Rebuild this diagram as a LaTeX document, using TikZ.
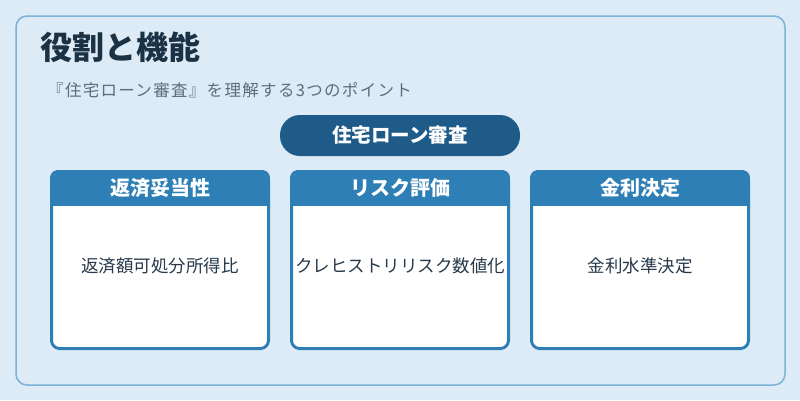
\documentclass[tikz,border=0pt]{standalone}
\usepackage{fontspec}
\setmainfont{Noto Sans CJK JP}
\newfontfamily\subfont{Noto Sans CJK JP}[LetterSpace=8]
\definecolor{bgc}{HTML}{DCEBF6}
\definecolor{framec}{HTML}{7AB2D8}
\definecolor{cardc}{HTML}{2E7FB5}
\definecolor{pillc}{HTML}{1E5B88}
\definecolor{titlec}{HTML}{1B3245}
\definecolor{subc}{HTML}{5C6E7D}
\definecolor{bodyc}{HTML}{27394A}
\begin{document}
\begin{tikzpicture}[x=1pt,y=-1pt,
  headtext/.style={text=white,font=\fontsize{20}{23}\selectfont\bfseries,anchor=center},
  bodytext/.style={text=bodyc,font=\fontsize{17.5}{20}\selectfont,anchor=center}]
\fill[bgc] (0,0) rectangle (800,400);
\useasboundingbox (0,0) rectangle (800,400);
\draw[framec,line width=1.5pt,rounded corners=11pt,fill=bgc] (16,16) rectangle (785,385);
\node[anchor=west,text=titlec,font=\fontsize{32}{36}\selectfont\bfseries,inner sep=0pt] (title) at (40,47) {役割と機能};
\node[anchor=west,text=subc,font=\subfont\fontsize{16.5}{19}\selectfont,inner sep=0pt] (sub) at (47,90) {『住宅ローン審査』を理解する3つのポイント};
\fill[pillc,rounded corners=20pt] (280,115) rectangle (520,156);
\node[text=white,font=\fontsize{19.5}{22}\selectfont\bfseries] (pill) at (400,135.5) {住宅ローン審査};
\foreach \x/\h/\b/\n in {50/返済妥当性/返済額可処分所得比/a, 290/リスク評価/クレヒストリリスク数値化/b, 530/金利決定/金利水準決定/c}{
  \begin{scope}
    \clip[rounded corners=8pt] (\x,170) rectangle ({\x+220},350);
    \fill[white] (\x,170) rectangle ({\x+220},350);
    \fill[cardc] (\x,170) rectangle ({\x+220},206);
  \end{scope}
  \draw[cardc,line width=3pt,rounded corners=8pt] (\x+1.5,171.5) rectangle ({\x+218.5},348.5);
  \node[headtext] (h\n) at ({\x+110},188) {\h};
  \node[bodytext] (t\n) at ({\x+110},266) {\b};
}
\end{tikzpicture}
\end{document}
